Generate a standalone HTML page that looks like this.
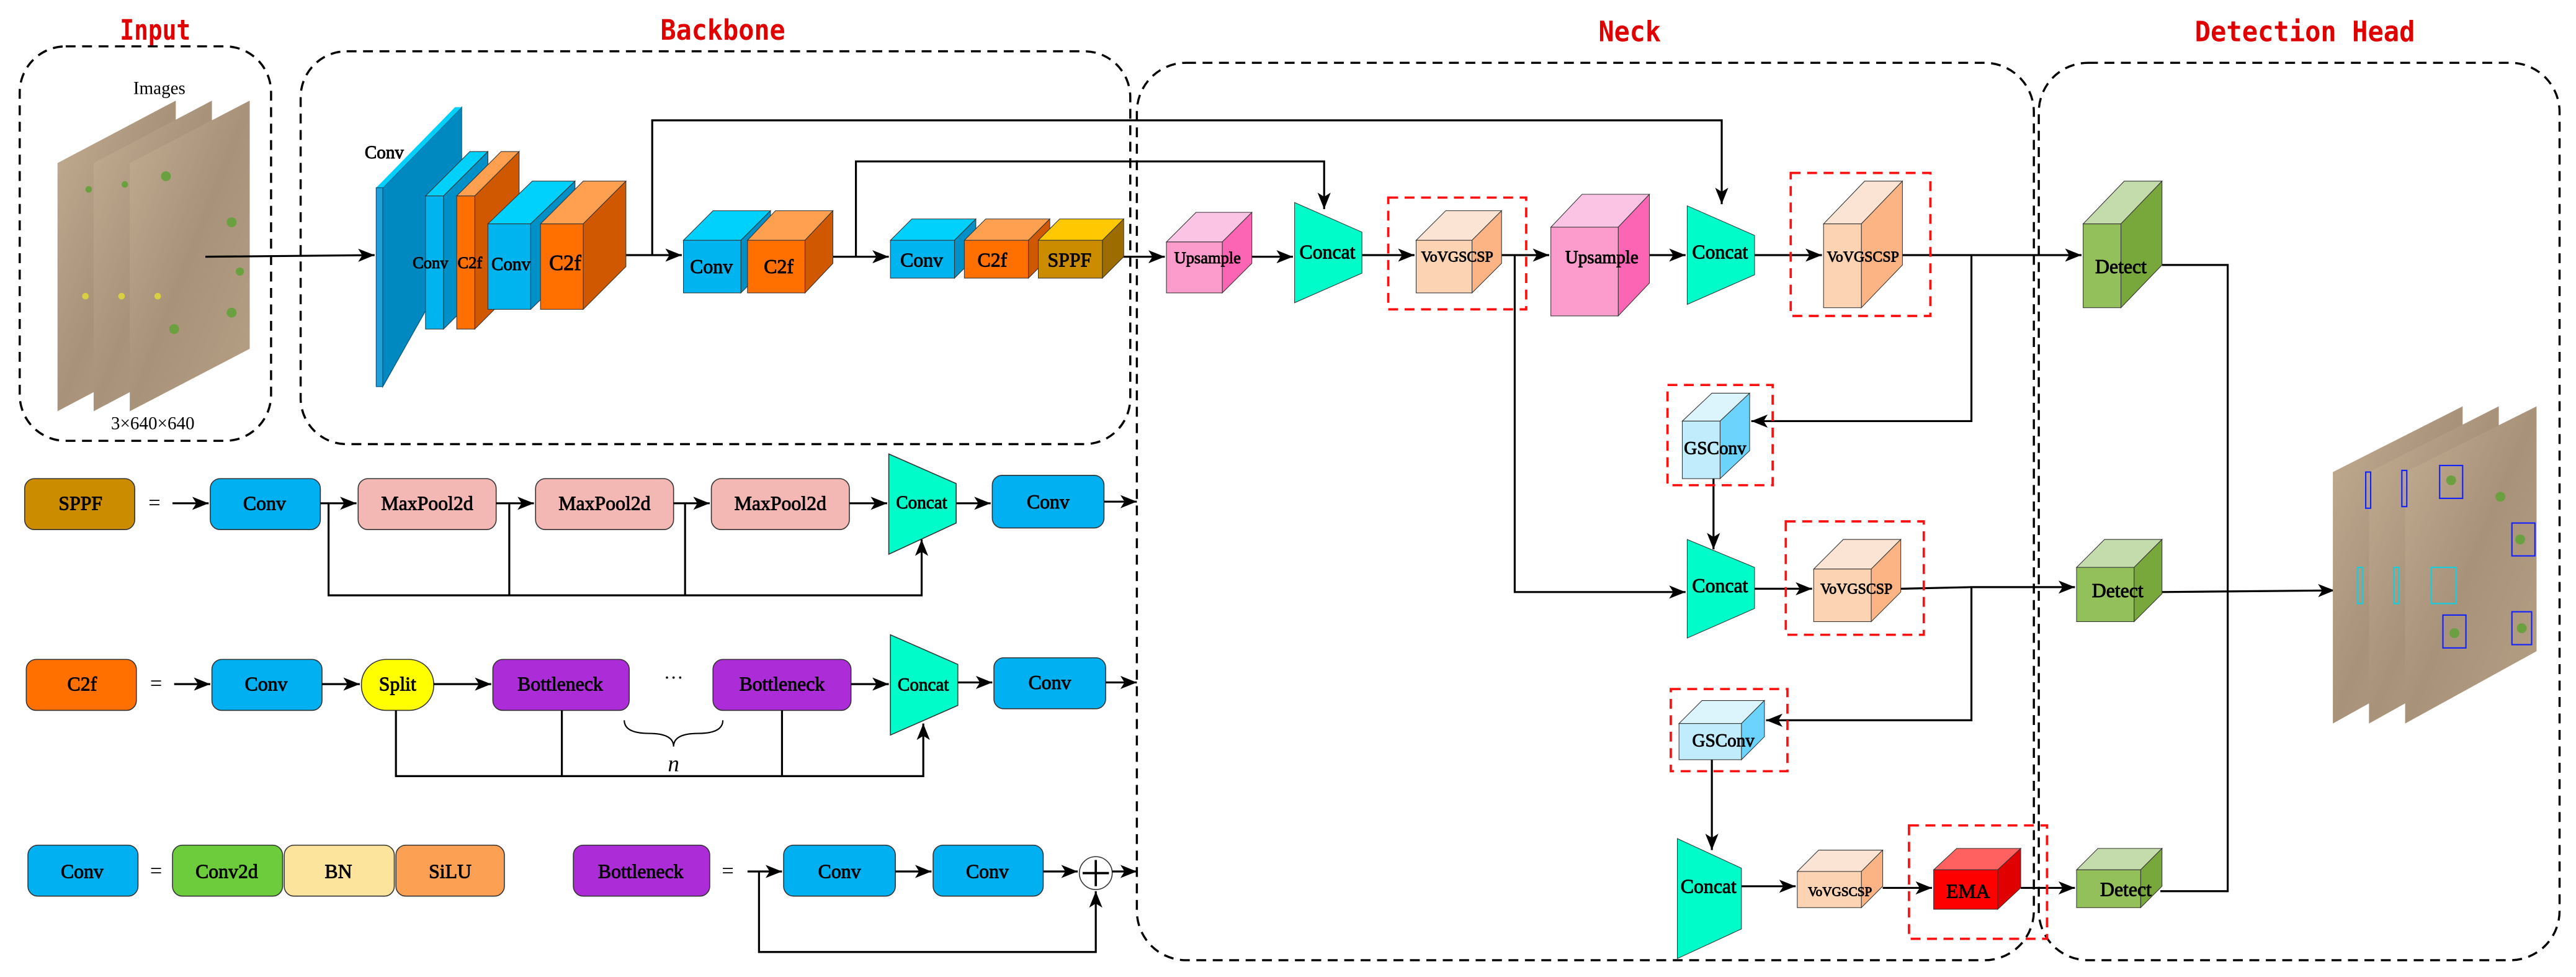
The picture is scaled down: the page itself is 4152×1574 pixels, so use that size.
<!DOCTYPE html>
<html><head><meta charset="utf-8"><style>
html,body{margin:0;padding:0;background:#fff;}
svg{display:block;}
text{font-family:"Liberation Serif","DejaVu Serif",serif;font-weight:normal;stroke:#000;stroke-width:0.35px;fill:#000;}
text.n{stroke:none;}
.t{font-family:"DejaVu Sans Mono","Liberation Mono",monospace;fill:#e00000;stroke:none;font-size:17px;font-weight:bold;}
</style></head><body>
<svg xmlns="http://www.w3.org/2000/svg" width="4152" height="1574" viewBox="0 0 1568 594">
<defs>
<marker id="a" markerWidth="10" markerHeight="8" refX="10" refY="4" orient="auto" markerUnits="userSpaceOnUse"><path d="M0,0 L10,4 L0,8 L2.5,4 Z" fill="#000"/></marker>
<linearGradient id="soil" x1="0" y1="0" x2="1" y2="1"><stop offset="0" stop-color="#c2ad92"/><stop offset="0.5" stop-color="#a8927a"/><stop offset="1" stop-color="#b5a085"/></linearGradient>
</defs>
<rect width="1568" height="594" fill="#fff"/>

<text class="t" x="73" y="24" textLength="43" lengthAdjust="spacingAndGlyphs">Input</text>
<text class="t" x="402" y="24" textLength="76" lengthAdjust="spacingAndGlyphs">Backbone</text>
<text class="t" x="973" y="25" textLength="38" lengthAdjust="spacingAndGlyphs">Neck</text>
<text class="t" x="1336" y="25" textLength="134" lengthAdjust="spacingAndGlyphs">Detection Head</text>

<g fill="none" stroke="#000" stroke-width="1.3" stroke-dasharray="6,4">
<rect x="12" y="28" width="153" height="240" rx="28"/>
<rect x="183" y="31" width="505" height="239" rx="28"/>
<rect x="692" y="38" width="546" height="546" rx="30"/>
<rect x="1241" y="38" width="317" height="546" rx="30"/>
</g>

<g stroke="none">
<polygon points="35,99 107,61 107,212 35,250" fill="url(#soil)"/>
<polygon points="57,99 129,61 129,212 57,250" fill="url(#soil)"/>
<polygon points="79,99 152,61 152,212 79,250" fill="url(#soil)"/>
<g fill="#6aa040"><circle cx="54" cy="115" r="2"/><circle cx="76" cy="112" r="2"/><circle cx="101" cy="107" r="3"/><circle cx="141" cy="135" r="3"/><circle cx="146" cy="165" r="2.5"/><circle cx="106" cy="200" r="3"/><circle cx="141" cy="190" r="3"/></g>
<g fill="#d8d040"><circle cx="52" cy="180" r="2"/><circle cx="74" cy="180" r="2"/><circle cx="96" cy="180" r="2"/></g>
</g>
<text class="n" x="97" y="57" font-size="11" text-anchor="middle">Images</text>
<text class="n" x="93" y="261" font-size="11" text-anchor="middle">3×640×640</text>

<g stroke="#000" stroke-width="1.2" fill="none">
<line x1="125" y1="156" x2="228" y2="155" marker-end="url(#a)"/>
<line x1="372" y1="155" x2="415" y2="155" marker-end="url(#a)"/>
<line x1="498" y1="156" x2="541" y2="156" marker-end="url(#a)"/>
<line x1="678" y1="156" x2="709" y2="156" marker-end="url(#a)"/>
<polyline points="397,155 397,73 1048,73 1048,124" marker-end="url(#a)"/>
<polyline points="521,156 521,98 806,98 806,127" marker-end="url(#a)"/>
</g>

<polygon points="233,114 281,65 281,150 233,235" fill="#0088c0" stroke="#0a5a80" stroke-width="0.5"/>
<polygon points="229,114 277,65 281,65 233,114" fill="#00d0fc"/>
<rect x="229" y="114" width="4" height="121" fill="#1ea0d8" stroke="#0a5a80" stroke-width="0.5"/>
<text x="222" y="96" font-size="11">Conv</text>

<g stroke="#333" stroke-width="0.4">
<polygon points="259,119 286,92 297,92 270,119" fill="#00d0fc"/><polygon points="270,119 297,92 297,173 270,200" fill="#0090c8"/><rect x="259" y="119" width="11" height="81" fill="#00b4f0"/>
<polygon points="278,119 305,92 316,92 289,119" fill="#ffa050"/><polygon points="289,119 316,92 316,173 289,200" fill="#d05800"/><rect x="278" y="119" width="11" height="81" fill="#ff7000"/>
<polygon points="297,136 324,110 350,110 323,136" fill="#00d0fc"/><polygon points="323,136 350,110 350,162 323,188" fill="#0090c8"/><rect x="297" y="136" width="26" height="52" fill="#00b4f0"/>
<polygon points="329,136 355,110 381,110 355,136" fill="#ffa050"/><polygon points="355,136 381,110 381,162 355,188" fill="#d05800"/><rect x="329" y="136" width="26" height="52" fill="#ff7000"/>
<polygon points="416,146 434,128 469,128 451,146" fill="#00d0fc"/><polygon points="451,146 469,128 469,160 451,178" fill="#0090c8"/><rect x="416" y="146" width="35" height="32" fill="#00b4f0"/>
<polygon points="455,146 472,128 507,128 490,146" fill="#ffa050"/><polygon points="490,146 507,128 507,160 490,178" fill="#d05800"/><rect x="455" y="146" width="35" height="32" fill="#ff7000"/>
<polygon points="542,146 555,133 594,133 581,146" fill="#00d0fc"/><polygon points="581,146 594,133 594,156 581,169" fill="#0090c8"/><rect x="542" y="146" width="39" height="23" fill="#00b4f0"/>
<polygon points="587,146 600,133 639,133 626,146" fill="#ffa050"/><polygon points="626,146 639,133 639,156 626,169" fill="#d05800"/><rect x="587" y="146" width="39" height="23" fill="#ff7000"/>
<polygon points="632,146 645,133 684,133 671,146" fill="#ffc800"/><polygon points="671,146 684,133 684,156 671,169" fill="#9c6c00"/><rect x="632" y="146" width="39" height="23" fill="#cc8c00"/>
</g>
<g font-size="10" text-anchor="middle">
<text x="262" y="163" font-size="10">Conv</text>
<text x="286" y="163" font-size="10">C2f</text>
<text x="311" y="164" font-size="11">Conv</text>
<text x="344" y="164" font-size="13">C2f</text>
<text x="433" y="166" font-size="12">Conv</text>
<text x="474" y="166" font-size="12">C2f</text>
<text x="561" y="162" font-size="12">Conv</text>
<text x="604" y="162" font-size="12">C2f</text>
<text x="651" y="162" font-size="12">SPPF</text>
</g>

<g stroke="#000" stroke-width="1.2" fill="none">
<line x1="762" y1="156" x2="787" y2="156" marker-end="url(#a)"/>
<line x1="829" y1="155" x2="861" y2="155" marker-end="url(#a)"/>
<line x1="914" y1="155" x2="943" y2="155" marker-end="url(#a)"/>
<line x1="1002" y1="155" x2="1026" y2="155" marker-end="url(#a)"/>
<line x1="1068" y1="155" x2="1109" y2="155" marker-end="url(#a)"/>
<line x1="1158" y1="155" x2="1267" y2="155" marker-end="url(#a)"/>
<polyline points="1200,155 1200,256 1066,256" marker-end="url(#a)"/>
<line x1="1043" y1="291" x2="1043" y2="334" marker-end="url(#a)"/>
<polyline points="922,155 922,360 1026,360" marker-end="url(#a)"/>
<line x1="1068" y1="358" x2="1103" y2="358" marker-end="url(#a)"/>
<polyline points="1157,358 1200,357 1263,357" marker-end="url(#a)"/>
<polyline points="1200,357 1200,438 1075,438" marker-end="url(#a)"/>
<line x1="1042" y1="462" x2="1042" y2="517" marker-end="url(#a)"/>
<line x1="1060" y1="539" x2="1093" y2="539" marker-end="url(#a)"/>
<line x1="1146" y1="540" x2="1176" y2="540" marker-end="url(#a)"/>
<line x1="1230" y1="540" x2="1263" y2="540" marker-end="url(#a)"/>
<polyline points="1316,161 1356,161 1356,542 1315,542"/>
<line x1="1316" y1="360" x2="1421" y2="359" marker-end="url(#a)"/>
</g>

<g fill="none" stroke="#ff1010" stroke-width="1.4" stroke-dasharray="6,4">
<rect x="845" y="120" width="84" height="68"/>
<rect x="1090" y="105" width="85" height="87"/>
<rect x="1015" y="234" width="64" height="61"/>
<rect x="1087" y="317" width="84" height="69"/>
<rect x="1017" y="419" width="71" height="50"/>
<rect x="1162" y="502" width="84" height="69"/>
</g>

<g fill="#00fcc8" stroke="#333" stroke-width="0.4">
<polygon points="788,123 829,141 829,166 788,184"/>
<polygon points="1027,125 1068,143 1068,167 1027,185"/>
<polygon points="1027,328 1068,345 1068,370 1027,388"/>
<polygon points="1021,510 1060,528 1060,565 1021,583"/>
</g>
<g font-size="12" text-anchor="middle">
<text x="808" y="157">Concat</text>
<text x="1047" y="157">Concat</text>
<text x="1047" y="360">Concat</text>
<text x="1040" y="543">Concat</text>
</g>

<g stroke="#333" stroke-width="0.4">
<polygon points="710,147 728,129 762,129 744,147" fill="#fcc4e4"/><polygon points="744,147 762,129 762,160 744,178" fill="#fc64b4"/><rect x="710" y="147" width="34" height="31" fill="#fc9ccc"/>
<polygon points="862,146 880,128 914,128 896,146" fill="#fce4d4"/><polygon points="896,146 914,128 914,160 896,178" fill="#fcb484"/><rect x="862" y="146" width="34" height="32" fill="#fcd4b4"/>
<polygon points="944,138 963,118 1004,118 985,138" fill="#fcc4e4"/><polygon points="985,138 1004,118 1004,172 985,192" fill="#fc64b4"/><rect x="944" y="138" width="41" height="54" fill="#fc9ccc"/>
<polygon points="1110,136 1135,110 1158,110 1133,136" fill="#fce4d4"/><polygon points="1133,136 1158,110 1158,161 1133,187" fill="#fcb484"/><rect x="1110" y="136" width="23" height="51" fill="#fcd4b4"/>
<polygon points="1024,256 1042,239 1065,239 1047,256" fill="#dcf4fc"/><polygon points="1047,256 1065,239 1065,274 1047,291" fill="#6cd4fc"/><rect x="1024" y="256" width="23" height="35" fill="#c0ecfc"/>
<polygon points="1104,346 1122,328 1157,328 1139,346" fill="#fce4d4"/><polygon points="1139,346 1157,328 1157,360 1139,378" fill="#fcb484"/><rect x="1104" y="346" width="35" height="32" fill="#fcd4b4"/>
<polygon points="1022,440 1036,426 1074,426 1060,440" fill="#dcf4fc"/><polygon points="1060,440 1074,426 1074,448 1060,462" fill="#6cd4fc"/><rect x="1022" y="440" width="38" height="22" fill="#c0ecfc"/>
<polygon points="1094,530 1107,517 1146,517 1133,530" fill="#fce4d4"/><polygon points="1133,530 1146,517 1146,539 1133,552" fill="#fcb484"/><rect x="1094" y="530" width="39" height="22" fill="#fcd4b4"/>
<polygon points="1177,529 1191,516 1230,516 1216,529" fill="#ff6060"/><polygon points="1216,529 1230,516 1230,540 1216,553" fill="#e00000"/><rect x="1177" y="529" width="39" height="24" fill="#ff0000"/>
<polygon points="1268,136 1293,110 1316,110 1291,136" fill="#c4dcac"/><polygon points="1291,136 1316,110 1316,161 1291,187" fill="#78a83c"/><rect x="1268" y="136" width="23" height="51" fill="#94c05c"/>
<polygon points="1264,345 1281,328 1316,328 1299,345" fill="#c4dcac"/><polygon points="1299,345 1316,328 1316,361 1299,378" fill="#78a83c"/><rect x="1264" y="345" width="35" height="33" fill="#94c05c"/>
<polygon points="1264,529 1277,516 1316,516 1303,529" fill="#c4dcac"/><polygon points="1303,529 1316,516 1316,539 1303,552" fill="#78a83c"/><rect x="1264" y="529" width="39" height="23" fill="#94c05c"/>
</g>
<g text-anchor="middle" font-size="10">
<text x="735" y="160">Upsample</text>
<text x="887" y="159" font-size="9">VoVGSCSP</text>
<text x="975" y="160" font-size="11">Upsample</text>
<text x="1134" y="159" font-size="9">VoVGSCSP</text>
<text x="1044" y="276" font-size="11">GSConv</text>
<text x="1130" y="361" font-size="9">VoVGSCSP</text>
<text x="1049" y="454" font-size="11">GSConv</text>
<text x="1120" y="545" font-size="8">VoVGSCSP</text>
<text x="1198" y="546" font-size="12">EMA</text>
<text x="1291" y="166" font-size="12">Detect</text>
<text x="1289" y="363" font-size="12">Detect</text>
<text x="1294" y="545" font-size="12">Detect</text>
</g>

<g>
<polygon points="1420,287 1499,247 1499,396 1420,440" fill="url(#soil)"/>
<polygon points="1442,287 1521,247 1521,396 1442,440" fill="url(#soil)"/>
<polygon points="1464,287 1544,247 1544,396 1464,440" fill="url(#soil)"/>
<g fill="none" stroke="#1020ff" stroke-width="0.8">
<rect x="1440" y="287" width="3" height="22"/><rect x="1462" y="286" width="3" height="22"/><rect x="1485" y="283" width="14" height="20"/>
<rect x="1529" y="318" width="14" height="20"/><rect x="1487" y="374" width="14" height="20"/><rect x="1529" y="372" width="12" height="20"/>
</g>
<g fill="none" stroke="#10d0e0" stroke-width="0.8"><rect x="1435" y="345" width="3" height="22"/><rect x="1457" y="345" width="3" height="22"/><rect x="1480" y="345" width="15" height="22"/></g>
<g fill="#6aa040"><circle cx="1492" cy="292" r="3"/><circle cx="1534" cy="328" r="3"/><circle cx="1494" cy="385" r="3"/><circle cx="1535" cy="382" r="3"/><circle cx="1522" cy="302" r="3"/></g>
</g>

<g stroke="#333" stroke-width="0.6">
<rect x="15" y="291" width="67" height="31" rx="6" fill="#cc8c00"/>
<rect x="128" y="291" width="67" height="31" rx="6" fill="#00b0f0"/>
<rect x="218" y="291" width="84" height="31" rx="6" fill="#f4b8b4"/>
<rect x="326" y="291" width="84" height="31" rx="6" fill="#f4b8b4"/>
<rect x="433" y="291" width="84" height="31" rx="6" fill="#f4b8b4"/>
<polygon points="541,276 582,294 582,318 541,337" fill="#00fcc8"/>
<rect x="604" y="289" width="68" height="32" rx="6" fill="#00b0f0"/>
<rect x="16" y="401" width="67" height="31" rx="6" fill="#ff7000"/>
<rect x="129" y="401" width="67" height="31" rx="6" fill="#00b0f0"/>
<rect x="220" y="401" width="44" height="31" rx="15" fill="#ffff00"/>
<rect x="300" y="401" width="83" height="31" rx="6" fill="#ac2cd8"/>
<rect x="434" y="401" width="84" height="31" rx="6" fill="#ac2cd8"/>
<polygon points="542,386 583,404 583,429 542,447" fill="#00fcc8"/>
<rect x="605" y="400" width="68" height="31" rx="6" fill="#00b0f0"/>
<rect x="17" y="514" width="67" height="31" rx="6" fill="#00b0f0"/>
<rect x="105" y="514" width="67" height="31" rx="6" fill="#6ccc3c"/>
<rect x="173" y="514" width="67" height="31" rx="6" fill="#fce49c"/>
<rect x="241" y="514" width="66" height="31" rx="6" fill="#fca054"/>
<rect x="349" y="514" width="83" height="31" rx="6" fill="#ac2cd8"/>
<rect x="477" y="514" width="68" height="31" rx="6" fill="#00b0f0"/>
<rect x="568" y="514" width="67" height="31" rx="6" fill="#00b0f0"/>
<circle cx="667" cy="531" r="10" fill="#fff"/>
</g>
<g stroke="#000" stroke-width="1.2" fill="none">
<line x1="105" y1="306" x2="127" y2="306" marker-end="url(#a)"/>
<line x1="195" y1="306" x2="217" y2="306" marker-end="url(#a)"/>
<line x1="302" y1="306" x2="325" y2="306" marker-end="url(#a)"/>
<line x1="410" y1="306" x2="432" y2="306" marker-end="url(#a)"/>
<line x1="517" y1="306" x2="540" y2="306" marker-end="url(#a)"/>
<line x1="582" y1="306" x2="603" y2="306" marker-end="url(#a)"/>
<line x1="672" y1="305" x2="692" y2="305" marker-end="url(#a)"/>
<polyline points="200,306 200,362 561,362 561,328" marker-end="url(#a)"/>
<line x1="310" y1="306" x2="310" y2="362"/>
<line x1="417" y1="306" x2="417" y2="362"/>
<line x1="106" y1="416" x2="128" y2="416" marker-end="url(#a)"/>
<line x1="196" y1="416" x2="219" y2="416" marker-end="url(#a)"/>
<line x1="264" y1="416" x2="299" y2="416" marker-end="url(#a)"/>
<line x1="518" y1="416" x2="541" y2="416" marker-end="url(#a)"/>
<line x1="583" y1="415" x2="604" y2="415" marker-end="url(#a)"/>
<line x1="673" y1="415" x2="692" y2="415" marker-end="url(#a)"/>
<polyline points="241,432 241,472 562,472 562,440" marker-end="url(#a)"/>
<line x1="342" y1="432" x2="342" y2="472"/>
<line x1="476" y1="432" x2="476" y2="472"/>
<path d="M380,438 Q380,446 395,446 Q410,446 410,454 Q410,446 425,446 Q440,446 440,438" stroke-width="0.8"/>
<line x1="455" y1="530" x2="476" y2="530" marker-end="url(#a)"/>
<line x1="545" y1="530" x2="567" y2="530" marker-end="url(#a)"/>
<line x1="635" y1="530" x2="656" y2="530" marker-end="url(#a)"/>
<line x1="677" y1="530" x2="692" y2="530" marker-end="url(#a)"/>
<polyline points="462,530 462,579 667,579 667,542" marker-end="url(#a)"/>
<line x1="667" y1="523" x2="667" y2="539" stroke-width="1.4"/>
<line x1="659" y1="531" x2="675" y2="531" stroke-width="1.4"/>
</g>
<g font-size="12" text-anchor="middle">
<text x="49" y="310">SPPF</text>
<text class="n" x="94" y="310" font-size="13">=</text>
<text x="161" y="310">Conv</text>
<text x="260" y="310">MaxPool2d</text>
<text x="368" y="310">MaxPool2d</text>
<text x="475" y="310">MaxPool2d</text>
<text x="561" y="309" font-size="11">Concat</text>
<text x="638" y="309">Conv</text>
<text x="50" y="420">C2f</text>
<text class="n" x="95" y="420" font-size="13">=</text>
<text x="162" y="420">Conv</text>
<text x="242" y="420">Split</text>
<text x="341" y="420">Bottleneck</text>
<text class="n" x="410" y="416">···</text>
<text x="476" y="420">Bottleneck</text>
<text x="562" y="420" font-size="11">Concat</text>
<text x="639" y="419">Conv</text>
<text class="n" x="410" y="469" font-style="italic" font-size="14">n</text>
<text x="50" y="534">Conv</text>
<text class="n" x="95" y="534" font-size="13">=</text>
<text x="138" y="534">Conv2d</text>
<text x="206" y="534">BN</text>
<text x="274" y="534">SiLU</text>
<text x="390" y="534">Bottleneck</text>
<text class="n" x="443" y="534" font-size="13">=</text>
<text x="511" y="534">Conv</text>
<text x="601" y="534">Conv</text>
</g>
</svg>
</body></html>
